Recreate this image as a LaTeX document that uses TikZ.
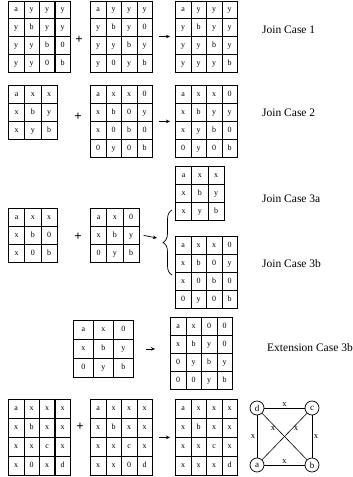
\documentclass[tikz,border=0pt]{standalone}
\usepackage{fontspec}
\setmainfont{Liberation Serif}
\usepackage{tikz}
\usetikzlibrary{positioning, calc, matrix, decorations.pathreplacing, arrows.meta}

\newcommand{\cellfont}{\fontsize{8}{9}\selectfont}
\newcommand{\capfont}{\fontsize{11.5}{13}\selectfont}

\tikzset{
  grid/.style 2 args={matrix of nodes, anchor=north west, inner sep=0pt, outer sep=0pt,
    column sep=-0.8pt, row sep=-0.8pt,
    nodes={draw, line width=0.8pt, inner sep=0pt, font=\cellfont, anchor=center,
      text height=5.5pt, text depth=1.5pt, minimum width=#1, minimum height=#2}},
  plus/.style={font=\fontsize{13}{13}\selectfont\bfseries, inner sep=0pt},
  arr/.style={line width=0.7pt, -{Stealth[length=4pt, width=3.5pt]}},
  caption/.style={anchor=west, font=\capfont, inner sep=0pt},
  vtx/.style={circle, draw, line width=0.7pt, minimum size=14pt, inner sep=0pt, font=\fontsize{9}{9}\selectfont},
  edge/.style={line width=0.6pt},
  elab/.style={font=\fontsize{8.5}{9}\selectfont, inner sep=1.5pt}
}

\begin{document}
\begin{tikzpicture}[x=1pt, y=-1pt]
  \useasboundingbox[fill=white] (0,0) rectangle (353,477);

  \matrix[grid={15.5pt}{17.8pt}] (m1a) at (8,0.5) {
    a & y & y & y \\ y & b & y & y \\ y & y & b & 0 \\ y & y & 0 & b \\};
  \matrix[grid={15.5pt}{17.8pt}] (m1b) at (90,0.5) {
    a & y & y & y \\ y & b & y & 0 \\ y & y & b & y \\ y & 0 & y & b \\};
  \matrix[grid={15.5pt}{17.8pt}] (m1c) at (175,0.5) {
    a & y & y & y \\ y & b & y & y \\ y & y & b & y \\ y & y & y & b \\};
  \node[plus] (p1) at (79,40) {+};
  \draw[arr] ([xshift=6pt]m1b.east) -- ([xshift=-5pt]m1c.east -| m1c.west);
  \node[caption] (c1) at (262,30) {Join Case 1};

  \matrix[grid={16.3pt}{18pt}] (m2a) at (8,85) {
    a & x & x \\ x & b & y \\ x & y & b \\};
  \matrix[grid={15.5pt}{18pt}] (m2b) at (90,85) {
    a & x & x & 0 \\ x & b & 0 & y \\ x & 0 & b & 0 \\ 0 & y & 0 & b \\};
  \matrix[grid={15.5pt}{18pt}] (m2c) at (175,85) {
    a & x & x & 0 \\ x & b & y & y \\ x & y & b & 0 \\ 0 & y & 0 & b \\};
  \node[plus] (p2) at (78,117) {+};
  \draw[arr] ([xshift=6pt]m2b.east) -- ([xshift=-5pt]m2c.east -| m2c.west);
  \node[caption] (c2) at (262,113) {Join Case 2};

  \matrix[grid={16.3pt}{18pt}] (m3a) at (8,208) {
    a & x & x \\ x & b & 0 \\ x & 0 & b \\};
  \matrix[grid={16.3pt}{18pt}] (m3b) at (90,208) {
    a & x & 0 \\ x & b & y \\ 0 & y & b \\};
  \matrix[grid={16.3pt}{18pt}] (m3c) at (175,166) {
    a & x & x \\ x & b & y \\ x & y & b \\};
  \matrix[grid={15.5pt}{18pt}] (m3d) at (175,236) {
    a & x & x & 0 \\ x & b & 0 & y \\ x & 0 & b & 0 \\ 0 & y & 0 & b \\};
  \node[plus] (p3) at (78,237) {+};
  \coordinate (bt) at (172,210);
  \coordinate (bb) at (172,275);
  \coordinate (tip) at (157,238);
  \draw[line width=0.7pt, decorate, decoration={brace, amplitude=9pt}] (bb) -- (bt);
  \draw[arr] ([xshift=4pt]m3b.east) -- (tip);
  \node[caption] (c3a) at (262,199) {Join Case 3a};
  \node[caption] (c3b) at (262,264) {Join Case 3b};

  \matrix[grid={20pt}{19pt}] (m4a) at (73,320) {
    a & x & 0 \\ x & b & y \\ 0 & y & b \\};
  \matrix[grid={15.5pt}{18pt}] (m4b) at (170,317) {
    a & x & 0 & 0 \\ x & b & y & 0 \\ 0 & y & b & y \\ 0 & 0 & y & b \\};
  \draw[arr] ([xshift=12pt]m4a.east) -- ([xshift=-15pt]m4a.east -| m4b.west);
  \node[caption] (c4) at (267,348) {Extension Case 3b};

  \matrix[grid={15.5pt}{19pt}] (m5a) at (8,399) {
    a & x & x & x \\ x & b & x & x \\ x & x & c & x \\ x & 0 & x & d \\};
  \matrix[grid={15.5pt}{19pt}] (m5b) at (90,399) {
    a & x & x & x \\ x & b & x & x \\ x & x & c & x \\ x & x & 0 & d \\};
  \matrix[grid={15.5pt}{19pt}] (m5c) at (175,399) {
    a & x & x & x \\ x & b & x & x \\ x & x & c & x \\ x & x & x & d \\};
  \node[plus] (p5) at (80,427) {+};
  \draw[arr] ([xshift=6pt]m5b.east) -- ([xshift=-5pt]m5c.east -| m5c.west);

  \node[vtx] (d) at (257,408) {d};
  \node[vtx] (c) at (312,408) {c};
  \node[vtx] (a) at (257,465) {a};
  \node[vtx] (b) at (312,465) {b};
  \draw[edge] (d) -- node[elab, above] {x} (c);
  \draw[edge] (a) -- node[elab, left] {x} (d);
  \draw[edge] (c) -- node[elab, right] {x} (b);
  \draw[edge] (a) -- node[elab, above] {x} (b);
  \draw[edge] (d) -- node[elab, pos=0.33, left] {x} (b);
  \draw[edge] (a) -- node[elab, pos=0.67, right] {x} (c);
\end{tikzpicture}
\end{document}
